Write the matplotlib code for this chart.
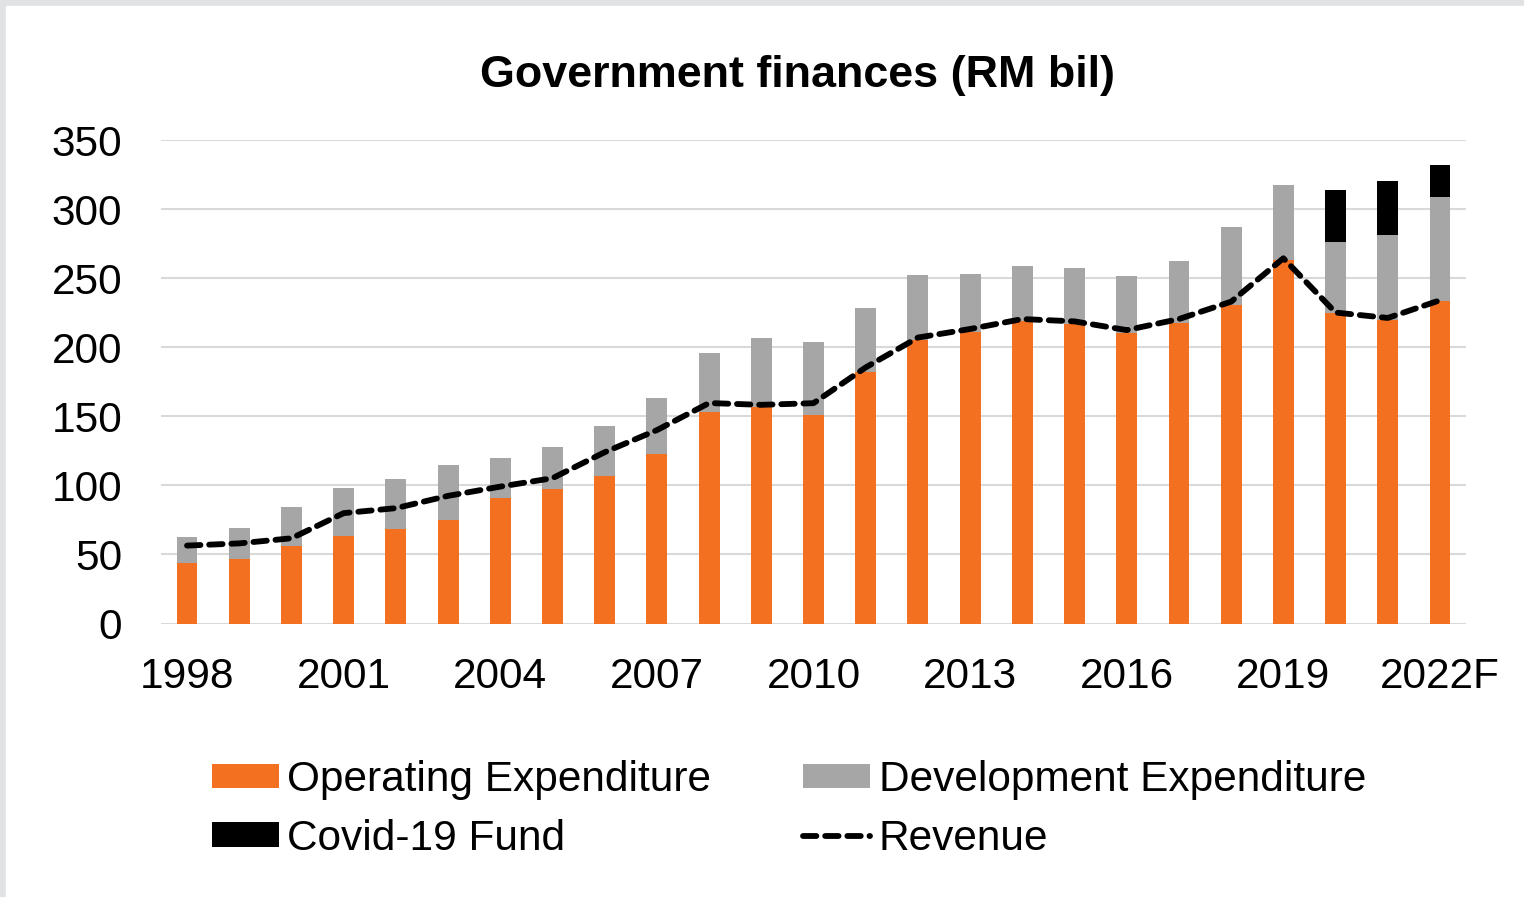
import numpy as np
import matplotlib
matplotlib.use("Agg")
import matplotlib.pyplot as plt
from matplotlib.patches import Rectangle

plt.rcParams['font.family'] = ['Liberation Sans', 'DejaVu Sans']

years = ['1998', '1999', '2000', '2001', '2002', '2003', '2004', '2005', '2006',
         '2007', '2008', '2009', '2010', '2011', '2012', '2013', '2014', '2015',
         '2016', '2017', '2018', '2019', '2020', '2021', '2022F']
tick_labels = ['1998', '', '', '2001', '', '', '2004', '', '', '2007', '', '',
               '2010', '', '', '2013', '', '', '2016', '', '', '2019', '', '', '2022F']

operating = [44.1, 46.5, 56.2, 63.4, 68.5, 75.0, 91.2, 97.5, 107.1,
             122.6, 152.8, 156.7, 151.1, 182.2, 205.2, 210.7, 219.2, 217.0,
             210.3, 217.5, 230.8, 263.4, 224.8, 219.4, 233.2]
development = [18.4, 22.5, 28.0, 35.0, 36.0, 39.4, 28.8, 30.6, 36.0,
               40.8, 43.2, 49.7, 52.9, 46.4, 47.3, 42.3, 39.8, 40.4,
               41.5, 44.7, 56.0, 53.8, 51.1, 62.1, 75.8]
covid = [0] * 22 + [38.0, 39.1, 23.0]
revenue = [56.4, 58.0, 61.7, 79.9, 83.5, 92.4, 99.1, 105.2, 124.0,
           140.0, 159.6, 158.3, 159.5, 185.4, 207.0, 213.2, 220.4, 218.7,
           212.4, 220.4, 233.0, 264.4, 225.1, 221.2, 234.0]

c_oper = '#F37021'
c_dev = '#A6A6A6'
c_covid = '#000000'

fig = plt.figure(figsize=(15.24, 8.97), dpi=100)
# light grey frame on the top and left edges
fig.patches.append(Rectangle((0, 0), 1, 1, transform=fig.transFigure,
                             color='#E1E2E4', zorder=-10))
fig.patches.append(Rectangle((6 / 1524, 0), 1, 1 - 6 / 897, transform=fig.transFigure,
                             color='white', zorder=-9))

ax = fig.add_axes([0.1056, 0.3049, 0.962 - 0.1056, 0.8439 - 0.3049])
ax.set_facecolor('none')

x = np.arange(len(years))
w = 0.4
oper = np.array(operating)
dev = np.array(development)
cov = np.array(covid)

b_op = ax.bar(x, oper, w, color=c_oper, label='Operating Expenditure', zorder=2)
b_dev = ax.bar(x, dev, w, bottom=oper, color=c_dev, label='Development Expenditure', zorder=2)
b_cov = ax.bar(x, cov, w, bottom=oper + dev, color=c_covid, label='Covid-19 Fund', zorder=2)
ln_rev, = ax.plot(x, revenue, color='black', lw=4.2, dashes=(2.3, 1.5), label='Revenue',
                  zorder=3, dash_capstyle='round')

ax.set_xlim(-0.5, len(years) - 0.5)
ax.set_ylim(0, 350)
ax.set_yticks(range(0, 351, 50))
ax.set_xticks(x)
ax.set_xticklabels(tick_labels)
ax.tick_params(axis='both', length=0, labelsize=30.5, colors='black')
ax.tick_params(axis='y', pad=28)
ax.tick_params(axis='x', pad=24)
ax.grid(axis='y', color='#D9D9D9', lw=1.5, zorder=0)
for s in ax.spines.values():
    s.set_visible(False)

fig.text(0.5236, 0.916, 'Government finances (RM bil)', ha='center', va='center',
         fontsize=32.3, fontweight='bold')

# column-first fill: col 1 = Operating, Covid; col 2 = Development, Revenue
fig.legend([b_op, b_cov, b_dev, ln_rev],
           ['Operating Expenditure', 'Covid-19 Fund', 'Development Expenditure', 'Revenue'],
           ncol=2, loc='upper left', bbox_to_anchor=(212 / 1524, 1 - 760 / 897),
           frameon=False, fontsize=30.5, handlelength=1.58, handleheight=0.52,
           handletextpad=0.2, columnspacing=2.17, labelspacing=0.44,
           borderpad=0, borderaxespad=0)

fig.savefig('out.png', dpi=100)
